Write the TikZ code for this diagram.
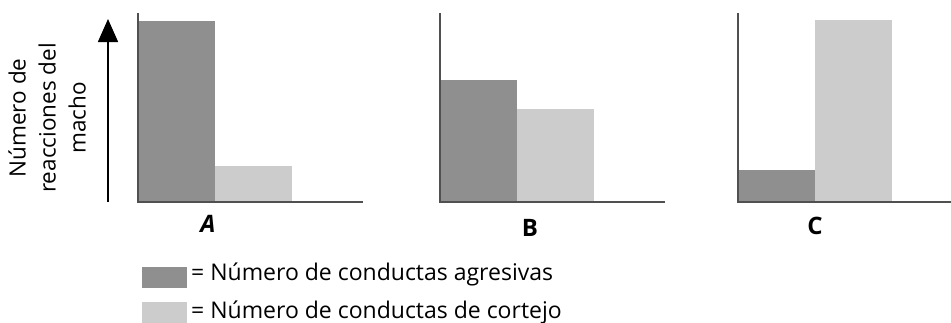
\documentclass[tikz,border=0pt]{standalone}
\usepackage{fontspec}
\setmainfont{Open Sans}
\usetikzlibrary{arrows.meta}
\definecolor{barDark}{HTML}{8F8F8F}
\definecolor{barLight}{HTML}{CCCCCC}
\definecolor{axisGray}{HTML}{505050}
\begin{document}
\begin{tikzpicture}[x=1pt,y=-1pt,
  axisline/.style={draw=axisGray, line width=1.4pt},
  darkbar/.style={fill=barDark, draw=none},
  lightbar/.style={fill=barLight, draw=none},
  chartlabel/.style={font=\bfseries\fontsize{24}{24}\selectfont, inner sep=0pt},
  legendtext/.style={font=\fontsize{23}{23}\selectfont, anchor=base west, inner sep=0pt},
  swatch/.style={minimum width=45pt, minimum height=21pt, inner sep=0pt, draw=none}]
\useasboundingbox (0,0) rectangle (951,322);
% Chart A
\fill[darkbar]  (138,201) rectangle (215,21);
\fill[lightbar] (215,201) rectangle (292,166);
\draw[axisline] (138,13) -- (138,202) -- (363,202);
% Chart B
\fill[darkbar]  (440,201) rectangle (517,80);
\fill[lightbar] (517,201) rectangle (594,109);
\draw[axisline] (440,13) -- (440,202) -- (665,202);
% Chart C
\fill[darkbar]  (738,201) rectangle (815,170);
\fill[lightbar] (815,201) rectangle (892,20);
\draw[axisline] (738,13) -- (738,202) -- (951,202);
% labels
\node[chartlabel, font=\bfseries\itshape\fontsize{24}{24}\selectfont] (labA) at (208,224) {A};
\node[chartlabel] (labB) at (530,228) {B};
\node[chartlabel] (labC) at (815,226) {C};
% y arrow
\coordinate (arrS) at (108,202);
\coordinate (arrE) at (108,19);
\draw[line width=1.6pt, -{Triangle[width=20pt,length=23pt]}] (arrS) -- (arrE);
% y label
\node[rotate=90, align=center, font=\fontsize{22.5}{30}\selectfont, inner sep=0pt] (ylab) at (47,118) {Número de\\reacciones del\\macho};
% legend
\node[swatch, fill=barDark] (swD) at (164.5,277.5) {};
\node[swatch, fill=barLight] (swL) at (164.5,312) {};
\node[legendtext] (legD) at (191,280) {= Número de conductas agresivas};
\node[legendtext] (legL) at (191,318) {= Número de conductas de cortejo};
\end{tikzpicture}
\end{document}
